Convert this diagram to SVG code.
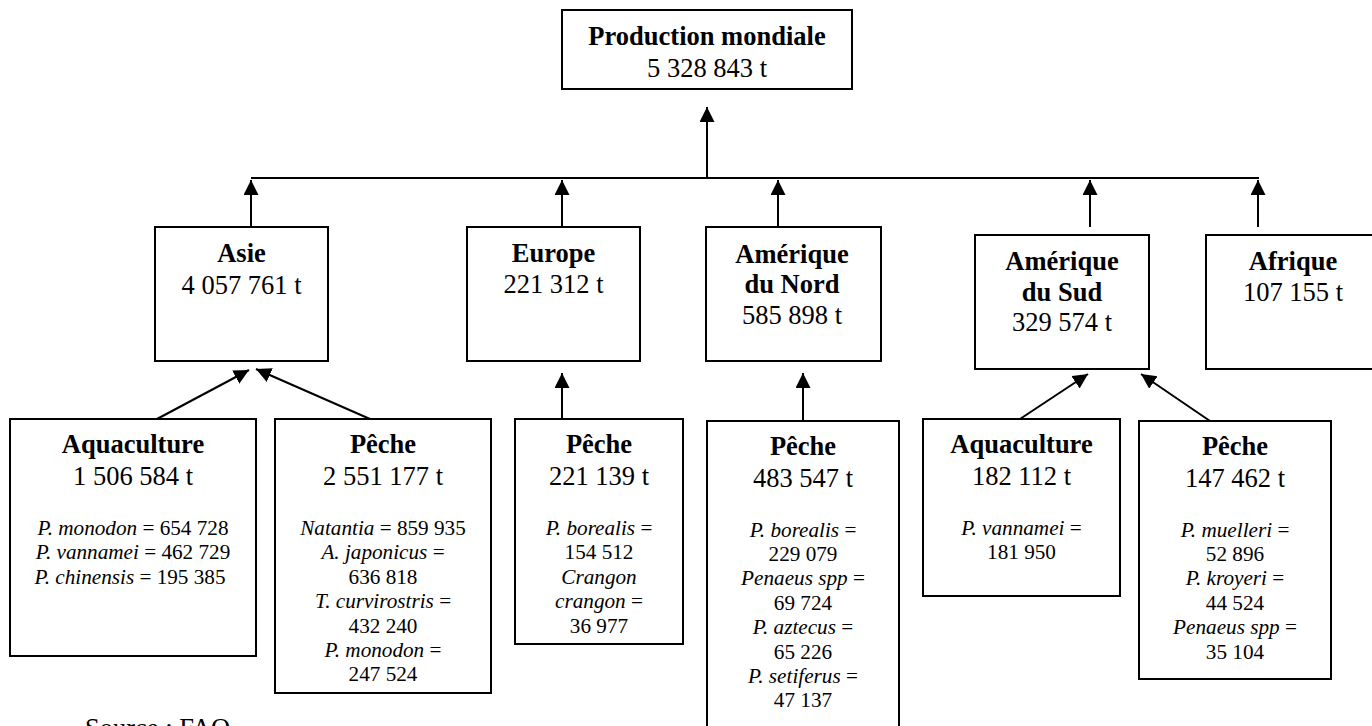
<svg xmlns="http://www.w3.org/2000/svg" width="1372" height="726" viewBox="0 0 1372 726">
<style>
.box{fill:#fff;stroke:#000;stroke-width:2}
text{font-family:"Liberation Serif","Times New Roman",serif;fill:#000;text-anchor:middle}
.t{font-size:26.5px;font-weight:bold}
.n{font-size:26.5px}
.s{font-size:21.2px}
.i{font-style:italic}
.c{stroke:#000;stroke-width:2;fill:none}
</style>
<defs>
<marker id="ah" markerUnits="userSpaceOnUse" markerWidth="16" markerHeight="16" refX="15" refY="7.5" orient="auto" viewBox="0 0 16 16">
<path d="M0,0 L15,7.5 L0,15 z" fill="#000"/>
</marker>
</defs>
<rect width="1372" height="726" fill="#fff"/>
<g id="connectors">
<line class="c" x1="251" y1="178" x2="1259" y2="178"/>
<line class="c" x1="707" y1="178" x2="707" y2="107" marker-end="url(#ah)"/>
<line class="c" x1="251" y1="227" x2="251" y2="180" marker-end="url(#ah)"/>
<line class="c" x1="562" y1="227" x2="562" y2="180" marker-end="url(#ah)"/>
<line class="c" x1="778" y1="227" x2="778" y2="180" marker-end="url(#ah)"/>
<line class="c" x1="1090" y1="227" x2="1090" y2="180" marker-end="url(#ah)"/>
<line class="c" x1="1258" y1="227" x2="1258" y2="180" marker-end="url(#ah)"/>
<line class="c" x1="157" y1="419" x2="249" y2="370" marker-end="url(#ah)"/>
<line class="c" x1="370" y1="419" x2="256" y2="369" marker-end="url(#ah)"/>
<line class="c" x1="562" y1="419" x2="562" y2="373" marker-end="url(#ah)"/>
<line class="c" x1="803" y1="421" x2="803" y2="373" marker-end="url(#ah)"/>
<line class="c" x1="1020" y1="419" x2="1088" y2="374" marker-end="url(#ah)"/>
<line class="c" x1="1210" y1="421" x2="1141" y2="374" marker-end="url(#ah)"/>
</g>
<g id="monde">
<rect class="box" x="562" y="10" width="290" height="79"/>
<text class="t" x="707" y="45">Production mondiale</text>
<text class="n" x="707" y="77">5 328 843 t</text>
</g>
<g id="asie">
<rect class="box" x="155" y="227" width="173" height="134"/>
<text class="t" x="241.5" y="262">Asie</text>
<text class="n" x="241.5" y="294">4 057 761 t</text>
</g>
<g id="europe">
<rect class="box" x="467" y="227" width="173" height="134"/>
<text class="t" x="553.5" y="262">Europe</text>
<text class="n" x="553.5" y="293">221 312 t</text>
</g>
<g id="amerique-nord">
<rect class="box" x="706" y="227" width="175" height="134"/>
<text class="t" x="792" y="263">Amérique</text>
<text class="t" x="792" y="293">du Nord</text>
<text class="n" x="792" y="324">585 898 t</text>
</g>
<g id="amerique-sud">
<rect class="box" x="975" y="235" width="174" height="134"/>
<text class="t" x="1062" y="270">Amérique</text>
<text class="t" x="1062" y="301">du Sud</text>
<text class="n" x="1062" y="331">329 574 t</text>
</g>
<g id="afrique">
<rect class="box" x="1206" y="235" width="175" height="134"/>
<text class="t" x="1293" y="270">Afrique</text>
<text class="n" x="1293" y="301">107 155 t</text>
</g>
<g id="asie-aquaculture">
<rect class="box" x="10" y="419" width="246" height="237"/>
<text class="t" x="133" y="453">Aquaculture</text>
<text class="n" x="133" y="485">1 506 584 t</text>
<text class="s" x="133" y="535"><tspan class="i">P. monodon</tspan> = 654 728</text>
<text class="s" x="133" y="559.4"><tspan class="i">P. vannamei</tspan> = 462 729</text>
<text class="s" x="130" y="583.8"><tspan class="i">P. chinensis</tspan> = 195 385</text>
</g>
<g id="asie-peche">
<rect class="box" x="275" y="419" width="216" height="274"/>
<text class="t" x="383" y="453">Pêche</text>
<text class="n" x="383" y="485">2 551 177 t</text>
<text class="s" x="383" y="535"><tspan class="i">Natantia</tspan> = 859 935</text>
<text class="s" x="383" y="559.4"><tspan class="i">A. japonicus</tspan> =</text>
<text class="s" x="383" y="583.8">636 818</text>
<text class="s" x="383" y="608.2"><tspan class="i">T. curvirostris</tspan> =</text>
<text class="s" x="383" y="632.6">432 240</text>
<text class="s" x="383" y="657"><tspan class="i">P. monodon</tspan> =</text>
<text class="s" x="383" y="681.4">247 524</text>
</g>
<g id="europe-peche">
<rect class="box" x="515" y="419" width="168" height="225"/>
<text class="t" x="599" y="453">Pêche</text>
<text class="n" x="599" y="485">221 139 t</text>
<text class="s" x="599" y="535"><tspan class="i">P. borealis</tspan> =</text>
<text class="s" x="599" y="559.4">154 512</text>
<text class="s i" x="599" y="583.8">Crangon</text>
<text class="s" x="599" y="608.2"><tspan class="i">crangon</tspan> =</text>
<text class="s" x="599" y="632.6">36 977</text>
</g>
<g id="amerique-nord-peche">
<rect class="box" x="707" y="421" width="192" height="320"/>
<text class="t" x="803" y="455">Pêche</text>
<text class="n" x="803" y="487">483 547 t</text>
<text class="s" x="803" y="536.5"><tspan class="i">P. borealis</tspan> =</text>
<text class="s" x="803" y="560.9">229 079</text>
<text class="s" x="803" y="585.3"><tspan class="i">Penaeus spp</tspan> =</text>
<text class="s" x="803" y="609.7">69 724</text>
<text class="s" x="803" y="634.1"><tspan class="i">P. aztecus</tspan> =</text>
<text class="s" x="803" y="658.5">65 226</text>
<text class="s" x="803" y="682.9"><tspan class="i">P. setiferus</tspan> =</text>
<text class="s" x="803" y="707.3">47 137</text>
</g>
<g id="amerique-sud-aquaculture">
<rect class="box" x="923" y="419" width="197" height="177"/>
<text class="t" x="1021.5" y="453">Aquaculture</text>
<text class="n" x="1021.5" y="485">182 112 t</text>
<text class="s" x="1021.5" y="535"><tspan class="i">P. vannamei</tspan> =</text>
<text class="s" x="1021.5" y="559.4">181 950</text>
</g>
<g id="amerique-sud-peche">
<rect class="box" x="1139" y="421" width="192" height="258"/>
<text class="t" x="1235" y="455">Pêche</text>
<text class="n" x="1235" y="487">147 462 t</text>
<text class="s" x="1235" y="536.5"><tspan class="i">P. muelleri</tspan> =</text>
<text class="s" x="1235" y="560.9">52 896</text>
<text class="s" x="1235" y="585.3"><tspan class="i">P. kroyeri</tspan> =</text>
<text class="s" x="1235" y="609.7">44 524</text>
<text class="s" x="1235" y="634.1"><tspan class="i">Penaeus spp</tspan> =</text>
<text class="s" x="1235" y="658.5">35 104</text>
</g>
<text class="n" x="85" y="737" style="text-anchor:start">Source : FAO</text>
</svg>
